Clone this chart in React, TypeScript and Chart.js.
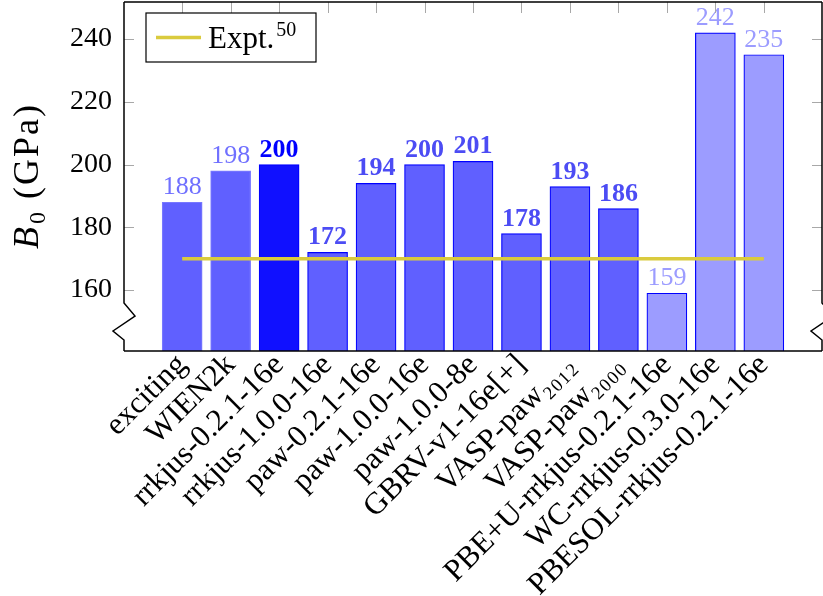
import React, { useEffect, useRef } from 'react';
import { Chart, registerables } from 'chart.js';

Chart.register(...registerables);

const categories = [
  'exciting',
  'WIEN2k',
  'rrkjus-0.2.1-16e',
  'rrkjus-1.0.0-16e',
  'paw-0.2.1-16e',
  'paw-1.0.0-16e',
  'paw-1.0.0-8e',
  'GBRV-v1-16e[+]',
  'VASP-paw₂₀₁₂',
  'VASP-paw₂₀₀₀',
  'PBE+U-rrkjus-0.2.1-16e',
  'WC-rrkjus-0.3.0-16e',
  'PBESOL-rrkjus-0.2.1-16e',
];
const bulkModulus = [188, 198, 200, 172, 194, 200, 201, 178, 193, 186, 159, 242, 235];
const exptValue = 170;
const exptLabel = 'Expt.';
const exptRef = '50';
const yTicks = [160, 180, 200, 220, 240];
const yMin = 140.6;
const yMax = 251.8;

const barFills = [
  '#6060ff', '#6060ff', '#1010ff', '#6060ff', '#6060ff', '#6060ff', '#6060ff',
  '#6060ff', '#6060ff', '#6060ff', '#9c9cff', '#9c9cff', '#9c9cff',
];
const barBorders = [
  '#7878ff', '#7878ff', '#0000ff', '#0000ff', '#0000ff', '#0000ff', '#0000ff',
  '#0000ff', '#0000ff', '#0000ff', '#0000ff', '#0000ff', '#0000ff',
];
const labelColors = [
  '#7070ff', '#7070ff', '#0000ff', '#4c4cf4', '#4c4cf4', '#4c4cf4', '#4c4cf4',
  '#4c4cf4', '#4c4cf4', '#4c4cf4', '#9c9cff', '#9c9cff', '#9c9cff',
];
const labelWeights = [
  'normal', 'normal', 'bold', 'bold', 'bold', 'bold', 'bold',
  'bold', 'bold', 'bold', 'normal', 'normal', 'normal',
];
const exptColor = '#dacb3e';
const FONT = "'Liberation Serif', 'DejaVu Serif', serif";

const decorPlugin = {
  id: 'decor',
  afterDatasetsDraw(chart: any) {
    const ctx = chart.ctx;
    const meta = chart.getDatasetMeta(1);
    ctx.save();
    ctx.textAlign = 'center';
    ctx.textBaseline = 'alphabetic';
    meta.data.forEach((bar: any, i: number) => {
      ctx.font = `${labelWeights[i]} 26px ${FONT}`;
      ctx.fillStyle = labelColors[i];
      ctx.fillText(String(bulkModulus[i]), bar.x, bar.y - 8);
    });
    ctx.restore();
  },
  afterDraw(chart: any) {
    const ctx = chart.ctx;
    const { left, right, top, bottom } = chart.chartArea;
    const xs = chart.scales.x;
    const ys = chart.scales.y;
    ctx.save();
    // inner ticks
    ctx.strokeStyle = '#a8a8a8';
    ctx.lineWidth = 1;
    ctx.beginPath();
    yTicks.forEach((v) => {
      const py = Math.round(ys.getPixelForValue(v)) + 0.5;
      ctx.moveTo(left, py);
      ctx.lineTo(left + 10, py);
      ctx.moveTo(right, py);
      ctx.lineTo(right - 10, py);
    });
    categories.forEach((_, i) => {
      const px = Math.round(xs.getPixelForValue(i)) + 0.5;
      ctx.moveTo(px, top);
      ctx.lineTo(px, top + 11);
    });
    ctx.stroke();
    // frame with axis breaks
    ctx.strokeStyle = '#000';
    ctx.lineWidth = 1.5;
    ctx.lineJoin = 'miter';
    ctx.beginPath();
    ctx.moveTo(left, top);
    ctx.lineTo(right, top);
    ctx.moveTo(left, bottom);
    ctx.lineTo(right, bottom);
    const drawBreak = (x: number) => {
      ctx.moveTo(x, top);
      ctx.lineTo(x, bottom - 48);
      ctx.lineTo(x + 11, bottom - 35);
      ctx.lineTo(x - 11, bottom - 20);
      ctx.lineTo(x, bottom - 11);
      ctx.lineTo(x, bottom);
    };
    drawBreak(left);
    drawBreak(right);
    ctx.stroke();

    // y axis title
    ctx.save();
    ctx.translate(38, 176);
    ctx.rotate(-Math.PI / 2);
    ctx.fillStyle = '#000';
    ctx.textBaseline = 'alphabetic';
    ctx.textAlign = 'left';
    try { (ctx as any).letterSpacing = '2px'; } catch (e) { /* ignore */ }
    const fB = `italic 36px ${FONT}`;
    const fSub = `24px ${FONT}`;
    const fRest = `36px ${FONT}`;
    ctx.font = fB;
    const wB = ctx.measureText('B').width;
    ctx.font = fSub;
    const wS = ctx.measureText('0').width;
    ctx.font = fRest;
    const wR = ctx.measureText(' (GPa)').width;
    let x0 = -(wB + wS + 1 + wR) / 2;
    ctx.font = fB;
    ctx.fillText('B', x0, 0);
    x0 += wB + 1;
    ctx.font = fSub;
    ctx.fillText('0', x0, 7);
    x0 += wS;
    ctx.font = fRest;
    ctx.fillText(' (GPa)', x0, 0);
    ctx.restore();

    // legend
    ctx.lineWidth = 1.2;
    ctx.strokeStyle = '#000';
    ctx.fillStyle = '#fff';
    ctx.fillRect(146, 13, 170, 49);
    ctx.strokeRect(146, 13, 170, 49);
    ctx.strokeStyle = exptColor;
    ctx.lineWidth = 3.5;
    ctx.beginPath();
    ctx.moveTo(156, 37.5);
    ctx.lineTo(201, 37.5);
    ctx.stroke();
    ctx.fillStyle = '#000';
    ctx.textAlign = 'left';
    ctx.textBaseline = 'alphabetic';
    ctx.font = `31px ${FONT}`;
    ctx.fillText(exptLabel, 208, 48);
    const w = ctx.measureText(exptLabel).width;
    ctx.font = `20px ${FONT}`;
    ctx.fillText(exptRef, 208 + w + 2, 36);
    ctx.restore();
  },
};

export default function App() {
  const ref = useRef<HTMLCanvasElement | null>(null);
  useEffect(() => {
    if (!ref.current) return;
    const chart = new Chart(ref.current, {
      type: 'bar',
      data: {
        datasets: [
          {
            type: 'line',
            label: exptLabel,
            data: [
              { x: 0, y: exptValue },
              { x: categories.length - 1, y: exptValue },
            ],
            borderColor: exptColor,
            borderWidth: 3.5,
            pointRadius: 0,
            fill: false,
            order: 0,
          } as any,
          {
            type: 'bar',
            label: 'B0',
            data: bulkModulus.map((v, i) => ({ x: i, y: v })),
            backgroundColor: barFills,
            borderColor: barBorders,
            borderWidth: 1.2,
            barThickness: 40,
            order: 1,
          } as any,
        ],
      },
      plugins: [decorPlugin],
      options: {
        animation: false,
        responsive: false,
        devicePixelRatio: 1,
        layout: { padding: { top: 2, right: 1, left: 0, bottom: 0 } },
        plugins: {
          legend: { display: false },
          tooltip: { enabled: false },
        },
        scales: {
          x: {
            type: 'linear',
            offset: false,
            min: -1.2,
            max: 13.2,
            grid: { display: false, drawTicks: false, offset: false },
            border: { display: false },
            afterBuildTicks: (scale: any) => {
              scale.ticks = categories.map((_, i) => ({ value: i }));
            },
            afterFit: (scale: any) => {
              scale.height = 245;
              scale.paddingLeft = 0;
              scale.paddingRight = 0;
            },
            ticks: {
              autoSkip: false,
              minRotation: 45,
              maxRotation: 45,
              padding: -4,
              color: '#000',
              font: { family: FONT, size: 31 },
              callback: (v: any) => categories[Math.round(Number(v))] ?? '',
            },
          },
          y: {
            type: 'linear',
            min: yMin,
            max: yMax,
            grid: { display: false, drawTicks: false },
            border: { display: false },
            afterBuildTicks: (scale: any) => {
              scale.ticks = yTicks.map((v) => ({ value: v }));
            },
            afterFit: (scale: any) => {
              scale.width = 124;
              scale.paddingTop = 0;
              scale.paddingBottom = 0;
            },
            ticks: {
              padding: 12,
              color: '#000',
              font: { family: FONT, size: 28 },
            },
          },
        },
      } as any,
    });
    return () => chart.destroy();
  }, []);
  return (
    <div style={{ position: 'fixed', left: 0, top: 0, width: 823, height: 596, background: '#fff' }}>
      <canvas ref={ref} width={823} height={596} style={{ display: 'block' }} />
    </div>
  );
}
